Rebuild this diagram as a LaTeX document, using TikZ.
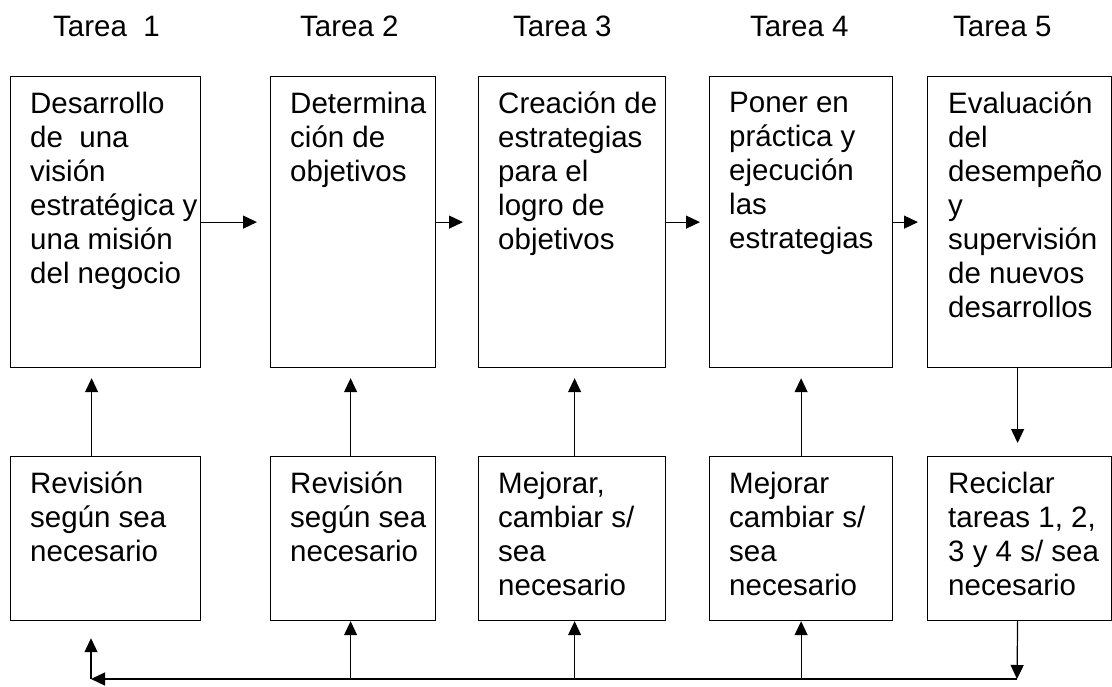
\documentclass[tikz,border=0pt]{standalone}
\usepackage{fontspec}
\setmainfont{Liberation Sans}
\usetikzlibrary{arrows.meta}
\tikzset{
  caja/.style={draw, line width=1.2pt, inner sep=0pt, anchor=north west},
  texto/.style={anchor=north west, inner sep=0pt, align=left, font=\fontsize{29.5}{34}\selectfont},
  flecha/.style={line width=1.2pt, -{Triangle[length=14pt,width=13pt]}}
}
\begin{document}
\begin{tikzpicture}[x=1pt,y=-1pt]
\useasboundingbox (0,0) rectangle (1112,686);
% etiquetas de las tareas
\node[texto, anchor=base west] (e1) at (53,36) {Tarea\ \ 1};
\node[texto, anchor=base west] (e2) at (300,36) {Tarea 2};
\node[texto, anchor=base west] (e3) at (513,36) {Tarea 3};
\node[texto, anchor=base west] (e4) at (750,36) {Tarea 4};
\node[texto, anchor=base west] (e5) at (953,36) {Tarea 5};
% cajas de arriba
\node[caja, minimum width=190pt, minimum height=291pt] (t1) at (10,76) {};
\node[caja, minimum width=165pt, minimum height=291pt] (t2) at (270,76) {};
\node[caja, minimum width=187pt, minimum height=291pt] (t3) at (478,76) {};
\node[caja, minimum width=183pt, minimum height=291pt] (t4) at (709,76) {};
\node[caja, minimum width=184pt, minimum height=291pt] (t5) at (927,76) {};
\node[texto] (x1) at ([shift={(20,16)}]t1.north west) {Desarrollo\\de\ \ una\\visión\\estratégica y\\una misión\\del negocio};
\node[texto] (x2) at ([shift={(20,16)}]t2.north west) {Determina\\ción de\\objetivos};
\node[texto] (x3) at ([shift={(20,16)}]t3.north west) {Creación de\\estrategias\\para el\\logro de\\objetivos};
\node[texto] (x4) at ([shift={(20,16)}]t4.north west) {Poner en\\práctica y\\ejecución\\las\\estrategias};
\node[texto] (x5) at ([shift={(21,16)}]t5.north west) {Evaluación\\del\\desempeño\\y\\supervisión\\de nuevos\\desarrollos};
% cajas de abajo
\node[caja, minimum width=190pt, minimum height=164pt] (r1) at (10,456) {};
\node[caja, minimum width=165pt, minimum height=164pt] (r2) at (270,456) {};
\node[caja, minimum width=187pt, minimum height=164pt] (r3) at (478,456) {};
\node[caja, minimum width=183pt, minimum height=164pt] (r4) at (709,456) {};
\node[caja, minimum width=184pt, minimum height=164pt] (r5) at (927,456) {};
\node[texto] (y1) at ([shift={(20,16)}]r1.north west) {Revisión\\según sea\\necesario};
\node[texto] (y2) at ([shift={(20,16)}]r2.north west) {Revisión\\según sea\\necesario};
\node[texto] (y3) at ([shift={(20,16)}]r3.north west) {Mejorar,\\cambiar s/\\sea\\necesario};
\node[texto] (y4) at ([shift={(20,16)}]r4.north west) {Mejorar\\cambiar s/\\sea\\necesario};
\node[texto] (y5) at ([shift={(21,16)}]r5.north west) {Reciclar\\tareas 1, 2,\\3 y 4 s/ sea\\necesario};
% flechas entre tareas
\draw[flecha, shorten >=13pt] (t1) -- (t2);
\draw[flecha, shorten >=15pt] (t2) -- (t3);
\draw[flecha, shorten >=9pt] (t3) -- (t4);
\draw[flecha, shorten >=9pt] (t4) -- (t5);
% flechas de revision
\draw[flecha, shorten >=10pt] ([xshift=-14pt]r1.north) -- ([xshift=-14pt]t1.south);
\draw[flecha, shorten >=10pt] ([xshift=-2.5pt]r2.north) -- ([xshift=-2.5pt]t2.south);
\draw[flecha, shorten >=10pt] ([xshift=2.5pt]r3.north) -- ([xshift=2.5pt]t3.south);
\draw[flecha, shorten >=10pt] (r4.north) -- (t4.south);
\draw[flecha, shorten >=13pt] ([xshift=-2pt]t5.south) -- ([xshift=-2pt]r5.north);
% retorno
\coordinate (b5) at (1017,679);
\coordinate (b1) at (91,679);
\draw[flecha] ([xshift=-2pt]r5.south) -- (b5);
\draw[flecha] (b5) -- (b1);
\draw[flecha, shorten >=17pt] (b1) -- (b1 |- r1.south);
\draw[flecha] (b1 -| r2.south) ++(-2.5,0) -- ([xshift=-2.5pt]r2.south);
\draw[flecha] (b1 -| r3.south) ++(2.5,0) -- ([xshift=2.5pt]r3.south);
\draw[flecha] (b1 -| r4.south) -- (r4.south);
\end{tikzpicture}
\end{document}
